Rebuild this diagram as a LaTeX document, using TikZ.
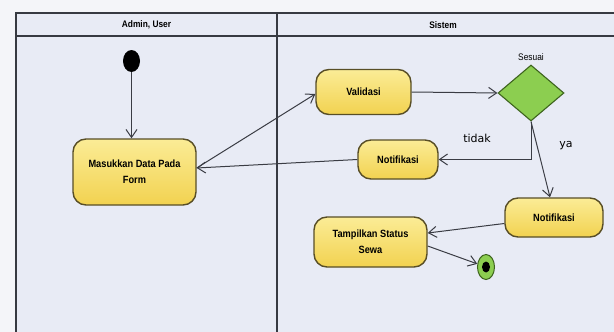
\documentclass[tikz,border=0pt]{standalone}
\usepackage{fontspec}
\setmainfont{Liberation Sans}
\newfontfamily\lblfont[FakeStretch=0.88]{Liberation Sans}
\newfontfamily\guardfont{DejaVu Sans}
\usetikzlibrary{arrows.meta,shapes.geometric,calc}

\definecolor{pagebg}{RGB}{244,245,249}
\definecolor{lanebg}{RGB}{232,235,245}
\definecolor{framecol}{RGB}{55,58,66}
\definecolor{boxtop}{RGB}{251,236,150}
\definecolor{boxbot}{RGB}{242,210,80}
\definecolor{boxline}{RGB}{88,78,38}
\definecolor{diafill}{RGB}{140,206,80}
\definecolor{dialine}{RGB}{62,100,30}
\definecolor{flowcol}{RGB}{58,60,68}

\tikzset{
  frameline/.style={draw=framecol, line width=1.1pt},
  header/.style={font=\lblfont\bfseries\fontsize{9.5}{11}\selectfont, text=black},
  actbox/.style={draw=boxline, line width=1.4pt, rounded corners=13pt,
    top color=boxtop, bottom color=boxbot, align=center, inner sep=2pt,
    font=\lblfont\bfseries\fontsize{10.5}{16}\selectfont},
  decision/.style={diamond, draw=dialine, line width=1.1pt, fill=diafill, inner sep=0pt},
  startdot/.style={ellipse, fill=black, inner sep=0pt, minimum width=17pt, minimum height=22pt},
  enddot/.style={ellipse, draw=dialine, line width=1pt, fill=diafill, inner sep=0pt,
    minimum width=17pt, minimum height=25pt},
  flow/.style={draw=flowcol, line width=1pt,
    -{Straight Barb[length=8pt, width=11pt, line width=1pt]}},
  guardlbl/.style={font=\guardfont\fontsize{11}{13}\selectfont, text=black},
  smalllbl/.style={font=\lblfont\fontsize{9.5}{11}\selectfont, text=black}
}

\begin{document}
\begin{tikzpicture}[x=1pt, y=-1pt]
  % canvas and swimlane frame
  \fill[pagebg] (0,0) rectangle (614,332);
  \useasboundingbox (0,0) rectangle (614,332);
  \fill[lanebg] (16,13) rectangle (614,332);
  \draw[frameline] (614,13) -- (16,13) -- (16,332);
  \draw[frameline] (16,36) -- (614,36);
  \draw[frameline] (277,13) -- (277,332);

  % lane titles
  \node[header] (laneA) at (146.5,25) {Admin, User};
  \node[header] (laneB) at (443,25) {Sistem};

  % activities
  \node[startdot] (start) at (131.5,61) {};
  \node[actbox, minimum width=123pt, minimum height=66pt] (mask) at (134.5,172) {Masukkan Data Pada\\Form};
  \node[actbox, minimum width=95pt, minimum height=45pt] (val) at (363.5,92) {Validasi};
  \node[decision, minimum width=66pt, minimum height=56pt] (dia) at (531,93) {};
  \node[smalllbl] (sesuai) at (531,57) {Sesuai};
  \node[actbox, minimum width=80pt, minimum height=39pt] (n1) at (398,159.5) {Notifikasi};
  \node[actbox, minimum width=98pt, minimum height=39pt] (n2) at (554,217.5) {Notifikasi};
  \node[actbox, minimum width=113pt, minimum height=50pt] (tamp) at (370.5,242) {Tampilkan Status\\Sewa};
  \node[enddot] (end) at (486,267) {};
  \node[ellipse, fill=black, inner sep=0pt, minimum width=8pt, minimum height=11pt] (endcore) at (end.center) {};

  % guard labels
  \node[guardlbl] (tidak) at (477,138) {tidak};
  \node[guardlbl] (ya) at (566,146) {ya};

  % control flow
  \draw[flow] (start) -- (start |- mask.north);
  \draw[flow] ([yshift=4pt]mask.east) -- ([yshift=-2pt]val.west);
  \draw[flow] (val.east) -- (dia.west);
  \draw[flow] (dia.south) -- (dia.south |- n1.east) -- (n1.east);
  \draw[flow] (n1.west) -- ([yshift=4pt]mask.east);
  \draw[flow] (dia.south) -- ([xshift=-4pt]n2.north);
  \draw[flow] ([yshift=-6pt]n2.west) -- ([yshift=9pt]tamp.east);
  \draw[flow] ([yshift=-4pt]tamp.east) -- (end);
\end{tikzpicture}
\end{document}
